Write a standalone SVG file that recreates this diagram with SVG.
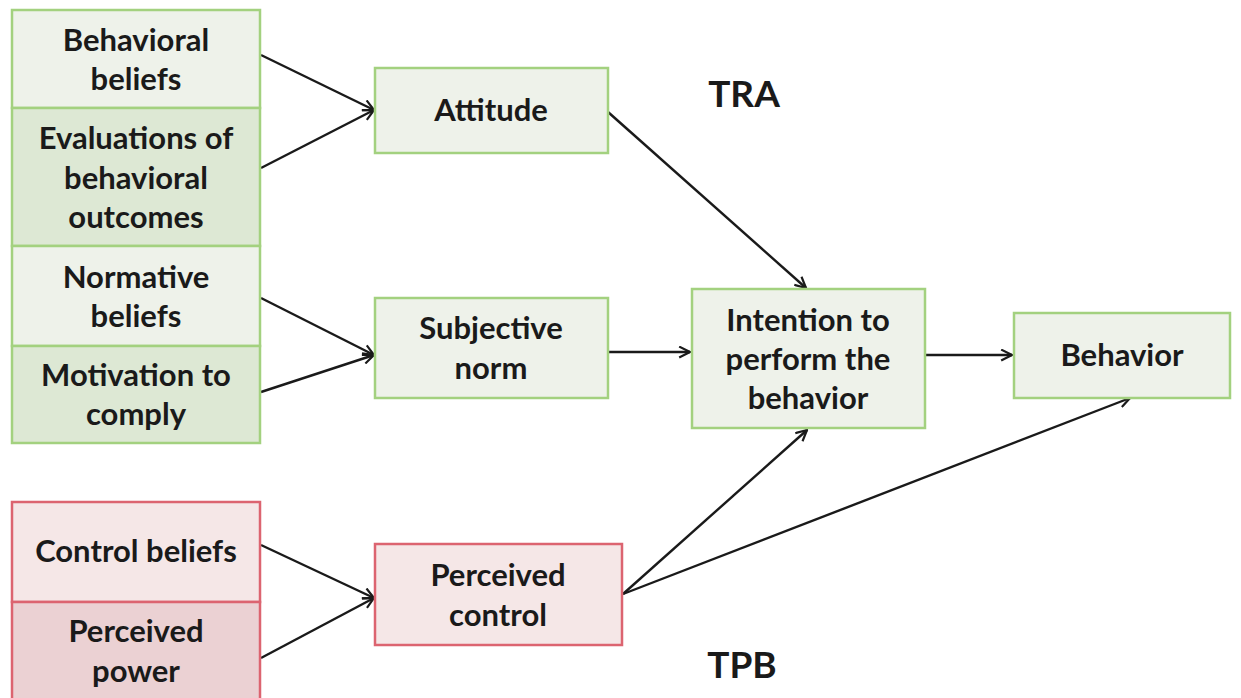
<svg xmlns="http://www.w3.org/2000/svg" width="1241" height="698" viewBox="0 0 1241 698">
<defs>
<style>
.g1{fill:#eef2ea;stroke:#a3d17f;stroke-width:2.5}
.g2{fill:#dde8d4;stroke:#a3d17f;stroke-width:2.5}
.r1{fill:#f5e7e7;stroke:#dc6470;stroke-width:2.5}
.r2{fill:#ebd1d3;stroke:#dc6470;stroke-width:2.5}
text{font-family:Lato,"Open Sans","Liberation Sans",sans-serif;font-weight:bold;font-size:31px;fill:#1a1a1a;text-anchor:middle}
.big{font-size:37px}
.c line{stroke:#1a1a1a;stroke-width:2.4;marker-end:url(#ah)}
</style>
<marker id="ah" viewBox="0 0 12 12" refX="11" refY="6" markerWidth="13" markerHeight="13" markerUnits="userSpaceOnUse" orient="auto">
<path d="M1,1 L11,6 L1,11" fill="none" stroke="#1a1a1a" stroke-width="2"/>
</marker>
</defs>
<rect width="1241" height="698" fill="#ffffff"/>
<g class="c">
<line x1="261" y1="55" x2="374" y2="110"/>
<line x1="261" y1="168" x2="374" y2="110"/>
<line x1="608" y1="112" x2="806" y2="288"/>
<line x1="261" y1="298" x2="374" y2="355"/>
<line x1="261" y1="392" x2="374" y2="355"/>
<line x1="608" y1="352" x2="690" y2="352"/>
<line x1="926" y1="355" x2="1012" y2="355"/>
<line x1="261" y1="545" x2="374" y2="598"/>
<line x1="261" y1="658" x2="374" y2="598"/>
<line x1="623" y1="594" x2="807" y2="430"/>
<line x1="623" y1="594" x2="1130" y2="398"/>
</g>
<g id="behavioral-beliefs"><rect class="g1" x="12" y="10" width="248" height="98"/><text x="136" y="51">Behavioral</text><text x="136" y="90">beliefs</text></g>
<g id="evaluations"><rect class="g2" x="12" y="108" width="248" height="138"/><text x="136" y="149">Evaluations of</text><text x="136" y="189">behavioral</text><text x="136" y="228">outcomes</text></g>
<g id="normative-beliefs"><rect class="g1" x="12" y="246" width="248" height="100"/><text x="136" y="288">Normative</text><text x="136" y="327">beliefs</text></g>
<g id="motivation"><rect class="g2" x="12" y="346" width="248" height="97"/><text x="136" y="386">Motivation to</text><text x="136" y="425">comply</text></g>
<g id="attitude"><rect class="g1" x="375" y="68" width="233" height="85"/><text x="491" y="121">Attitude</text></g>
<g id="subjective-norm"><rect class="g1" x="375" y="298" width="233" height="100"/><text x="491" y="339">Subjective</text><text x="491" y="379">norm</text></g>
<g id="intention"><rect class="g1" x="692" y="289" width="233" height="139"/><text x="808" y="331">Intention to</text><text x="808" y="370">perform the</text><text x="808" y="409">behavior</text></g>
<g id="behavior"><rect class="g1" x="1014" y="313" width="216" height="85"/><text x="1122" y="366">Behavior</text></g>
<g id="control-beliefs"><rect class="r1" x="12" y="502" width="248" height="100"/><text x="136" y="562">Control beliefs</text></g>
<g id="perceived-power"><rect class="r2" x="12" y="602" width="248" height="100"/><text x="136" y="642">Perceived</text><text x="136" y="682">power</text></g>
<g id="perceived-control"><rect class="r1" x="375" y="544" width="247" height="101"/><text x="498" y="586">Perceived</text><text x="498" y="626">control</text></g>
<g id="labels"><text class="big" x="744" y="107">TRA</text><text class="big" x="742" y="678">TPB</text></g>
</svg>
